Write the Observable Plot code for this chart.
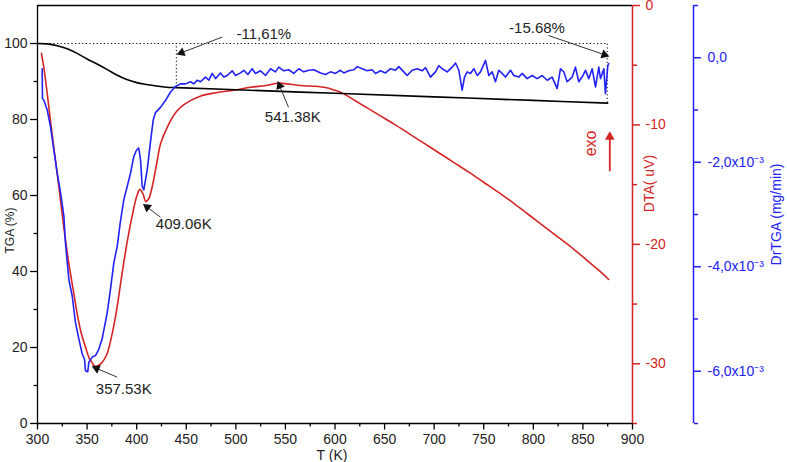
<!DOCTYPE html>
<html><head><meta charset="utf-8">
<script src="https://cdn.jsdelivr.net/npm/d3@7"></script>
<script src="https://cdn.jsdelivr.net/npm/@observablehq/plot@0.6"></script>
<style>body{margin:0;background:#fff} svg{display:block}</style>
</head><body><div id="chart"></div>
<script>
// ---------- data ----------
// TGA (%)
const tgaT = [300,310,320,330,340,350,360,370,380,390,400,410,420,430,440,500,600,700,800,875];
const tgaV = [100,99.9,99.4,98.6,97.4,95.9,94.6,93.2,91.7,90.5,89.7,89.2,88.8,88.5,88.39,87.83,86.89,85.96,85.02,84.32];
// DTA (uV)
const dtaT = [304,306.4,310,313,318.2,323.2,326.9,331.6,336,340,344,348.4,352,355,357.5,360,365,370,375,380,385,390,395,400,403.2,406.5,409.1,412,415.6,420.7,424,430.8,440,447.6,464,480,498,515,530,543.3,555,565,589,600,609,620,632,645,660,675,690,705,720,735,750,765,780,795,810,825,840,855,865,876];
const dtaV = [-4.0,-5.2,-7.5,-9.6,-13.0,-16.3,-18.8,-21.6,-23.8,-25.8,-27.4,-28.6,-29.5,-29.9,-30.2,-30.2,-29.9,-29.2,-27.6,-25.4,-22.6,-20.0,-17.8,-16.0,-15.4,-15.8,-16.4,-16.2,-15.2,-13.0,-11.6,-10.2,-8.9,-8.3,-7.6,-7.3,-7.1,-6.85,-6.7,-6.5,-6.6,-6.7,-6.85,-7.1,-7.4,-7.95,-8.55,-9.2,-9.95,-10.75,-11.55,-12.35,-13.15,-13.95,-14.8,-15.65,-16.55,-17.5,-18.45,-19.4,-20.35,-21.4,-22.1,-22.94];
// DrTGA (x10^-3 mg/min)
const drT = [304.7,305.0,306.4,309.8,313.1,316.5,319.9,323.3,326.6,328.2,331.6,335.0,338.3,341.7,345.1,347.4,348.4,350.7,351.7,355.2,358.5,361.8,365.2,370.3,373.6,377.0,380.4,383.5,387.0,390.5,393.8,397.1,399.8,402.1,403.9,405.6,407.2,410.6,414.0,416.7,419.0,424.0,429.0,434.0,439.0,
444.2,449.2,454.3,457.6,461.0,464.4,469.4,472.8,476.2,479.5,484.5,487.9,491.3,496.3,499.7,504.7,508.0,512.1,516.5,519.8,524.9,529.9,535.0,540.0,543.3,548.4,553.4,558.4,563.5,568.5,573.6,578.6,585.4,
590.4,595.5,600.5,605.5,608.9,613.9,619.0,622.4,627.4,632.5,637.5,640.8,645.9,650.9,656.0,661.0,664.3,669.4,672.8,677.8,682.9,687.9,691.3,696.3,701.3,704.7,708.1,713.1,718.2,721.5,724.9,728.2,730.6,733.3,736.6,
740.0,743.4,746.7,751.8,755.1,758.5,761.8,765.2,768.6,771.9,777.0,780.3,785.3,788.7,793.8,798.8,803.9,808.9,814.0,819.0,824.0,827.4,830.7,834.1,839.2,842.5,845.8,849.2,852.6,855.9,859.3,862.7,866.0,867.7,871.1,872.7,875.1,876.1];
const drV = [-0.21,-0.78,-0.81,-1.00,-1.32,-1.77,-2.21,-2.59,-3.03,-3.55,-4.24,-4.56,-5.07,-5.38,-5.67,-5.77,-5.99,-6.01,-5.83,-5.73,-5.70,-5.58,-5.38,-4.88,-4.43,-3.92,-3.61,-3.15,-2.72,-2.46,-2.21,-1.89,-1.77,-1.73,-1.96,-2.46,-2.53,-2.15,-1.60,-1.19,-1.05,-0.95,-0.82,-0.66,-0.55,
-0.50,-0.50,-0.46,-0.50,-0.43,-0.46,-0.37,-0.43,-0.30,-0.40,-0.29,-0.37,-0.34,-0.25,-0.34,-0.29,-0.24,-0.32,-0.21,-0.30,-0.25,-0.34,-0.21,-0.27,-0.18,-0.25,-0.23,-0.30,-0.21,-0.27,-0.24,-0.23,-0.29,
-0.32,-0.27,-0.30,-0.24,-0.29,-0.25,-0.23,-0.17,-0.21,-0.25,-0.23,-0.30,-0.25,-0.29,-0.21,-0.24,-0.17,-0.27,-0.34,-0.24,-0.21,-0.25,-0.19,-0.37,-0.27,-0.15,-0.21,-0.27,-0.18,-0.10,-0.24,-0.62,-0.37,-0.27,-0.30,
-0.21,-0.34,-0.27,-0.05,-0.34,-0.27,-0.46,-0.24,-0.30,-0.37,-0.24,-0.34,-0.37,-0.30,-0.40,-0.34,-0.40,-0.34,-0.43,-0.37,-0.59,-0.21,-0.27,-0.46,-0.37,-0.18,-0.46,-0.37,-0.24,-0.40,-0.21,-0.56,-0.18,-0.40,-0.21,-0.69,-0.15,-0.11];

// tick values
const xMajor = [300,350,400,450,500,550,600,650,700,750,800,850,900];
const xMinor = [325,375,425,475,525,575,625,675,725,775,825,875];
const tgaMajor = [0,20,40,60,80,100];
const tgaMinor = [10,30,50,70,90];
const dtaMajor = [-30,-20,-10,0];
const dtaMinor = [-35,-25,-15,-5];
const drMajor = [-6,-4,-2,0];
const drMinor = [-7,-5,-3,-1,1];

// mass-loss steps
const stepT = [440, 874.5];
const stepV = [88.39, 84.32];
const stepStartT = 302;

// annotations (label position, arrow tail, arrow tip)
const annText = ["-11,61%","-15.68%","541.38K","409.06K","357.53K"];
const annTx = [528.2, 803.7, 557.4, 447.5, 387.0];
const annTy = [102.5, 103.9, 80.6, 52.4, 9.1];
const annX1 = [486.3, 815.3, 553.1, 424.0, 380.4];
const annY1 = [101.7, 102.1, 83.2, 54.3, 12.2];
const annX2 = [442.5, 874.5, 543.0, 408.2, 356.8];
const annY2 = [97.3, 96.8, 89.6, 57.4, 14.8];
const exoPos = {x: 857.6, y: 73.7};
const exoArrow = {x1: 877.1, y1: 66.4, x2: 877.1, y2: 76.2};

// ---------- build ----------
const W = 787, H = 462, ML = 37, MR = 155, MT = 5, MB = 39;
const XD = [300, 900], YD = [0, 110];
const kx = (W - ML - MR) / (XD[1] - XD[0]), ky = (H - MT - MB) / (YD[1] - YD[0]);
const RED = "#d42424", BLUE = "#2222f5", FONT = "Liberation Sans, Arial, sans-serif";
const dtaS = d3.scaleLinear([-35, 0], YD);
const drS = d3.scaleLinear([-7, 1], YD);
const zip = (a, b) => d3.range(Math.min(a.length, b.length)).map(i => ({T: a[i], v: b[i]}));
const tga = zip(tgaT, tgaV), dta = zip(dtaT, dtaV), dr = zip(drT, drV);
// arrowhead: triangle placed just behind tip, rotated along the arrow
function head(a, back) {
  const sx = (a.x2 - a.x1) * kx, sy = -(a.y2 - a.y1) * ky, L = Math.hypot(sx, sy);
  return {hx: a.x2 - (sx / L) * back / kx, hy: a.y2 + (sy / L) * back / ky, rot: Math.atan2(sx, -sy) * 180 / Math.PI};
}
const ann = annText.map((t, i) => {
  const a = {t, x: annTx[i], y: annTy[i], x1: annX1[i], y1: annY1[i], x2: annX2[i], y2: annY2[i]};
  return {...a, ...head(a, 3)};
});
const exoA = {...exoArrow, ...head(exoArrow, 3)};
const hy = s => s.replace("\u2212", "-");
const drFmt = v => v === 0 ? "0,0" : `${hy(String(v))},0x10\u207B\u00B3`;
const title = {textAnchor: "middle", lineAnchor: "middle"};

const chart = Plot.plot({
  width: W, height: H,
  marginLeft: ML, marginRight: MR, marginTop: MT, marginBottom: MB,
  style: {fontFamily: FONT, background: "#fff"},
  x: {domain: XD, label: null},
  y: {domain: YD, label: null},
  marks: [
    // dotted step lines
    Plot.ruleY([100], {x1: stepStartT, x2: stepT[1], stroke: "#000", strokeWidth: 1, strokeDasharray: "1.2,2.4"}),
    Plot.ruleX(stepT.map((t, i) => ({t, v: stepV[i]})), {x: "t", y1: "v", y2: 100, stroke: "#000", strokeWidth: 1, strokeDasharray: "1.2,2.4"}),
    // curves
    Plot.line(dta, {x: "T", y: d => dtaS(d.v), stroke: RED, strokeWidth: 1.6, curve: "catmull-rom"}),
    Plot.line(tga, {x: "T", y: "v", stroke: "#000", strokeWidth: 1.6, curve: "catmull-rom"}),
    Plot.line(dr, {x: "T", y: d => drS(d.v), stroke: BLUE, strokeWidth: 1.6}),
    // frame
    Plot.ruleY([110], {stroke: "#000", strokeWidth: 1.3}),
    Plot.ruleY([0], {stroke: "#000", strokeWidth: 1.3}),
    Plot.ruleX([300], {stroke: "#000", strokeWidth: 1.3}),
    Plot.ruleX([900], {stroke: RED, strokeWidth: 1.5}),
    Plot.ruleX([900], {stroke: BLUE, strokeWidth: 1.5, dx: 61}),
    // x axis
    Plot.axisX({ticks: xMajor, tickSize: 6.5, tickPadding: 4, fontSize: 14, label: null, stroke: "#000", strokeWidth: 1.3, fill: "#222"}),
    Plot.axisX({ticks: xMinor, tickSize: 3.5, tickFormat: () => "", label: null, strokeWidth: 1.3}),
    // left TGA axis
    Plot.axisY({ticks: tgaMajor, tickSize: 7, tickPadding: 3, fontSize: 14, label: null, strokeWidth: 1.3, fill: "#222"}),
    Plot.axisY({ticks: tgaMinor, tickSize: 3.5, tickFormat: () => "", label: null, strokeWidth: 1.3}),
    // red DTA axis
    Plot.axisY({anchor: "right", ticks: dtaMajor.map(dtaS), tickSize: 7, tickPadding: 6, fontSize: 14, label: null,
      stroke: RED, fill: RED, strokeWidth: 1.5, tickFormat: d => hy(String(Math.round(dtaS.invert(d))))}),
    Plot.axisY({anchor: "right", ticks: dtaMinor.map(dtaS), tickSize: 4, tickFormat: () => "", label: null, stroke: RED, strokeWidth: 1.5}),
    // blue DrTGA axis
    Plot.axisY({anchor: "right", dx: 61, ticks: drMajor.map(drS), tickSize: 7, tickPadding: 7, fontSize: 14, label: null,
      stroke: BLUE, fill: BLUE, strokeWidth: 1.5, tickFormat: d => drFmt(Math.round(drS.invert(d)))}),
    Plot.axisY({anchor: "right", dx: 61, ticks: drMinor.map(drS), tickSize: 4, tickFormat: () => "", label: null, stroke: BLUE, strokeWidth: 1.5}),
    // axis titles
    Plot.text(["T (K)"], {...title, frameAnchor: "bottom", dx: -3, dy: 32, fontSize: 14, fill: "#222"}),
    Plot.text(["TGA (%)"], {...title, frameAnchor: "left", dx: -27, dy: 16, rotate: -90, fontSize: 12, fill: "#222"}),
    Plot.text(["DTA( uV)"], {...title, frameAnchor: "right", dx: 17, dy: -31, rotate: -90, fontSize: 14, fill: RED}),
    Plot.text(["DrTGA (mg/min)"], {...title, frameAnchor: "right", dx: 144, dy: 0, rotate: -90, fontSize: 14, fill: BLUE}),
    // exo indicator
    Plot.text([exoPos], {x: "x", y: "y", text: () => "exo", rotate: -90, fontSize: 16, fill: RED}),
    Plot.link([exoA], {x1: "x1", y1: "y1", x2: "hx", y2: "hy", stroke: RED, strokeWidth: 1.8}),
    Plot.dot([exoA], {x: "hx", y: "hy", rotate: "rot", symbol: "triangle", r: 3.6, fill: RED, stroke: "none"}),
    // annotations
    Plot.link(ann, {x1: "x1", y1: "y1", x2: "hx", y2: "hy", stroke: "#333", strokeWidth: 1}),
    Plot.dot(ann, {x: "hx", y: "hy", rotate: "rot", symbol: "triangle", r: 3.4, fill: "#111", stroke: "none"}),
    Plot.text(ann, {x: "x", y: "y", text: "t", fontSize: 15, fill: "#222"})
  ]
});
document.getElementById("chart").appendChild(chart);
</script></body></html>
